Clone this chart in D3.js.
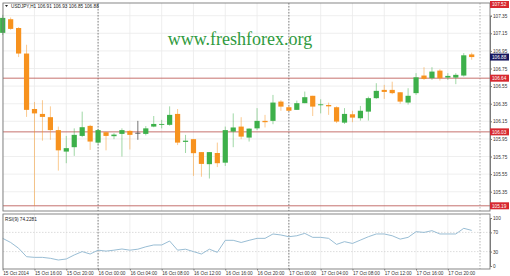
<!DOCTYPE html>
<html><head><meta charset="utf-8">
<script src="https://cdn.jsdelivr.net/npm/d3@7"></script>
<style>body{margin:0;background:#fff}svg{display:block;font-family:"Liberation Sans",Arial,sans-serif}</style>
</head><body><svg id="c" width="510" height="276"></svg>
<script>
// ---- data ----
const symbolTitle = "USDJPY,H1  106.91 106.93 106.85 106.88";
const openP  = [107.155,107.31,107.21,106.92,106.29,106.234,106.197,106.05,105.806,105.856,
                105.984,106.098,105.908,106.026,105.981,106.007,106.041,106.02,106.007,106.09,
                106.114,106.11,106.234,105.916,105.947,105.80,105.663,105.79,105.68,106.033,
                106.09,105.965,106.07,106.155,106.155,106.374,106.31,106.28,106.356,106.44,
                106.34,106.335,106.31,106.135,106.23,106.185,106.26,106.413,106.507,106.507,
                106.48,106.363,106.47,106.67,106.64,106.726,106.647,106.647,106.67,106.91];
const highP  = [107.36,107.33,107.22,107.02,106.37,106.39,106.32,106.09,105.984,106.07,
                106.26,106.11,106.064,106.03,106.015,106.07,106.05,106.155,106.096,106.21,
                106.166,106.32,106.29,105.996,105.95,105.80,105.80,105.908,106.09,106.24,
                106.197,106.07,106.30,106.223,106.45,106.39,106.325,106.385,106.488,106.44,
                106.40,106.363,106.32,106.30,106.27,106.325,106.43,106.583,106.564,106.60,
                106.48,106.526,106.697,106.765,106.765,106.742,106.697,106.697,106.925,106.93];
const lowP   = [107.13,107.19,106.88,106.20,105.19,105.93,105.94,105.59,105.674,105.757,
                105.97,105.825,105.89,105.82,105.947,105.75,105.83,105.94,105.99,106.083,
                106.07,106.10,105.88,105.79,105.53,105.52,105.50,105.63,105.643,105.856,
                105.947,105.92,106.05,106.08,106.117,106.27,106.27,106.28,106.356,106.21,
                106.24,106.223,106.13,106.12,106.14,106.158,106.158,106.405,106.405,106.458,
                106.35,106.34,106.45,106.62,106.62,106.613,106.62,106.572,106.658,106.85];
const closeP = [107.325,107.20,106.92,106.28,106.24,106.20,106.05,105.82,105.845,105.996,
                106.083,105.92,106.05,105.984,105.999,106.05,105.996,106.02,106.07,106.12,
                106.12,106.223,105.908,105.93,105.788,105.666,105.80,105.674,106.05,106.08,
                105.976,106.067,106.155,106.14,106.363,106.317,106.27,106.356,106.424,106.317,
                106.343,106.32,106.147,106.234,106.192,106.27,106.413,106.496,106.484,106.47,
                106.374,106.44,106.65,106.632,106.715,106.64,106.666,106.678,106.90,106.88];
const rsiValues = [57.6,49,37,19.4,18,18,16,12.5,14.6,23,
                   30,25,33,31,33,35.4,33,35,40,43.8,
                   43.8,52,33,35,30,25,35,28.5,53.5,53.5,
                   49,53.5,57.6,57.6,66.7,64.6,61,63,68,59.7,
                   59.7,57.6,45,50.7,47,54,61,66.7,66.7,63,
                   56,59.7,71.5,70,73.6,66.7,66.7,66.7,78.5,74.2];
const priceTicks = [107.35,107.15,106.95,106.75,106.55,106.35,106.15,105.95,105.75,105.55,105.35];
const levelLines = [106.64,106.03,105.19];
const levelLabels = ["107.52","106.64","106.03","105.19"];
const levelLabelValues = [107.52,106.64,106.03,105.19];
const bidLabel = 106.88;
const timeTickIdx = [0,4,8,12,16,20,24,28,32,36,40,44,48,52,56];
const timeLabels = ["15 Oct 2014","15 Oct 16:00","15 Oct 20:00","16 Oct 00:00","16 Oct 04:00",
  "16 Oct 08:00","16 Oct 12:00","16 Oct 16:00","16 Oct 20:00","17 Oct 00:00","17 Oct 04:00",
  "17 Oct 08:00","17 Oct 12:00","17 Oct 16:00","17 Oct 20:00"];
const separatorIdx = [12,36];
const rsiTicks = [100,70,30,0];
const rsiLevels = [70,30];

// ---- layout ----
const svg = d3.select("#c");
const L = 3, R = 490, T = 3, B = 211, RT = 214, RB = 269;
const x = d3.scaleLinear().domain([0,59]).range([2.7,471.7]);
const y = d3.scaleLinear().domain([105.19,107.35]).range([205.8,15.7]);
const yr = d3.scaleLinear().domain([0,100]).range([266,218]);
const green = "#3db04a", orange = "#f7921e";
const fs = 4.7;

svg.append("rect").attr("width",510).attr("height",276).attr("fill","#fff");

// grids
const grid = svg.append("g").attr("stroke","#ebebeb").attr("stroke-width",0.8);
priceTicks.forEach(p => grid.append("line").attr("x1",L).attr("x2",R).attr("y1",y(p)).attr("y2",y(p)));
timeTickIdx.forEach(i => {
  grid.append("line").attr("x1",x(i)).attr("x2",x(i)).attr("y1",T).attr("y2",B);
  grid.append("line").attr("x1",x(i)).attr("x2",x(i)).attr("y1",RT).attr("y2",RB);
});
rsiLevels.forEach(v => svg.append("line").attr("x1",L).attr("x2",R).attr("y1",yr(v)).attr("y2",yr(v))
  .attr("stroke","#cfcfcf").attr("stroke-width",0.7).attr("stroke-dasharray","1.5,1.5"));

// separators
separatorIdx.forEach(i => {
  [[T,B],[RT,RB]].forEach(([a,b]) => svg.append("line").attr("x1",x(i)).attr("x2",x(i)).attr("y1",a).attr("y2",b)
    .attr("stroke","#555").attr("stroke-width",0.7).attr("stroke-dasharray","1.5,1.5"));
});
[[T,B],[RT,RB]].forEach(([a,b]) => svg.append("line").attr("x1",480).attr("x2",480).attr("y1",a).attr("y2",b)
  .attr("stroke","#9a9a9a").attr("stroke-width",0.7).attr("stroke-dasharray","1.5,1.5"));

// watermark
svg.append("text").attr("x",240).attr("y",45).attr("text-anchor","middle")
  .attr("font-family","'Liberation Serif','Times New Roman',serif").attr("font-size",18)
  .attr("fill","#2f9a3e").text("www.freshforex.org");

// level lines
levelLines.forEach(p => svg.append("line").attr("x1",L).attr("x2",R).attr("y1",y(p)).attr("y2",y(p))
  .attr("stroke","#c0625e").attr("stroke-width",0.9));

// candles
const cg = svg.append("g");
const idx = d3.range(openP.length);
const colorOf = i => closeP[i] > openP[i] ? green : (closeP[i] < openP[i] ? orange : "#555");
cg.selectAll("line.w").data(idx).join("line")
  .attr("x1",i=>x(i)).attr("x2",i=>x(i)).attr("y1",i=>y(highP[i])).attr("y2",i=>y(lowP[i]))
  .attr("stroke",i=>colorOf(i)).attr("stroke-opacity",i=>closeP[i]===openP[i]?0.9:0.55).attr("stroke-width",0.9);
cg.selectAll("rect.b").data(idx).join("rect")
  .attr("x",i=>x(i)-2.6).attr("width",5.2)
  .attr("y",i=>y(Math.max(openP[i],closeP[i])))
  .attr("height",i=>Math.max(0.9, Math.abs(y(openP[i])-y(closeP[i]))))
  .attr("fill",i=>colorOf(i));

// RSI line
svg.append("path").datum(rsiValues)
  .attr("d", d3.line().x((d,i)=>x(i)).y(d=>yr(d)))
  .attr("fill","none").attr("stroke","#8db6cf").attr("stroke-width",0.9);

// panel borders
svg.append("rect").attr("x",L).attr("y",T).attr("width",R-L).attr("height",B-T).attr("fill","none").attr("stroke","#7a7a7a").attr("stroke-width",0.9);
svg.append("rect").attr("x",L).attr("y",RT).attr("width",R-L).attr("height",RB-RT).attr("fill","none").attr("stroke","#7a7a7a").attr("stroke-width",0.9);

// price axis
const pa = svg.append("g").attr("transform",`translate(${R},0)`)
  .call(d3.axisRight(y).tickValues(priceTicks).tickSize(2).tickPadding(1).tickFormat(d3.format(".2f")));
pa.select(".domain").attr("stroke","#7a7a7a");
pa.selectAll("text").attr("font-size",fs).attr("fill","#333").attr("font-family","'Liberation Sans',Arial,sans-serif");
pa.selectAll(".tick line").attr("stroke","#777");

// level labels
levelLabelValues.forEach((p,k) => {
  const cy = Math.max(T+1, Math.min(y(p), 207));
  const yy = k===0 ? 4.5 : cy;
  svg.append("rect").attr("x",R).attr("y",yy-3.5).attr("width",19).attr("height",7).attr("fill","#d7282f");
  svg.append("text").attr("x",R+2).attr("y",yy+1.7).attr("font-size",fs).attr("fill","#fff").text(levelLabels[k]);
});
svg.append("rect").attr("x",R).attr("y",y(bidLabel)-3.5).attr("width",19).attr("height",7).attr("fill","#16165e");
svg.append("text").attr("x",R+2).attr("y",y(bidLabel)+1.7).attr("font-size",fs).attr("fill","#fff").text(bidLabel.toFixed(2));

// RSI axis
const ra = svg.append("g").attr("transform",`translate(${R},0)`)
  .call(d3.axisRight(yr).tickValues(rsiTicks).tickSize(2).tickPadding(1));
ra.select(".domain").attr("stroke","#7a7a7a");
ra.selectAll("text").attr("font-size",fs).attr("fill","#333").attr("font-family","'Liberation Sans',Arial,sans-serif");
ra.selectAll(".tick line").attr("stroke","#777");

// time axis
const ta = svg.append("g").attr("transform",`translate(0,${RB})`)
  .call(d3.axisBottom(x).tickValues(timeTickIdx).tickSize(1.5).tickPadding(1.5).tickFormat((d,i)=>timeLabels[i]));
ta.select(".domain").remove();
ta.selectAll("text").attr("font-size",fs).attr("fill","#333").attr("text-anchor","start").attr("font-family","'Liberation Sans',Arial,sans-serif");
ta.selectAll(".tick line").attr("stroke","#777");

// titles
svg.append("path").attr("d","M5,5 L8,5 L6.5,7 Z").attr("fill","#222");
svg.append("text").attr("x",11).attr("y",8).attr("font-size",fs).attr("fill","#222").text(symbolTitle);
svg.append("text").attr("x",5).attr("y",221).attr("font-size",fs).attr("fill","#222").text("RSI(9) 74.2281");
</script></body></html>
